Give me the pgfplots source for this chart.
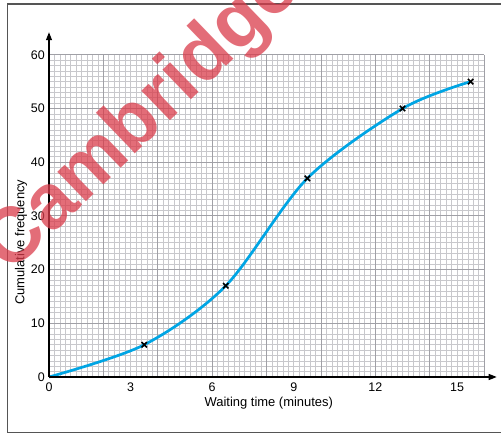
\documentclass[border=0pt]{standalone}
\usepackage{fontspec}
\setmainfont{Liberation Sans}
\usepackage{pgfplots}
\pgfplotsset{compat=1.18}
\usetikzlibrary{arrows.meta}

\definecolor{curveblue}{RGB}{0,165,228}
\definecolor{wmred}{RGB}{218,60,75}
\definecolor{gridminor}{RGB}{200,200,204}
\definecolor{gridmajor}{RGB}{160,160,166}
\definecolor{framegray}{RGB}{85,85,85}

\begin{document}
\begin{tikzpicture}[x=1bp,y=1bp]
\useasboundingbox (0,0) rectangle (501,434);
% outer frame (right side runs off the page)
\draw[framegray, line width=1.2bp] (503,430) -- (7.5,430) -- (7.5,1.5) -- (503,1.5);

\begin{axis}[
    at={(49bp,57bp)}, anchor=south west,
    scale only axis, width=435.2bp, height=322.2bp,
    xmin=0, xmax=16, ymin=0, ymax=60,
    axis lines=left, axis line style={draw=none},
    clip=false,
    xtick={0,3,...,15}, ytick={0,10,...,60},
    minor xtick={0,0.2,...,16.01}, minor y tick num=9,
    xmajorgrids=false, xminorgrids=true, ymajorgrids=true, yminorgrids=true,
    extra x ticks={2,4,...,16}, extra x tick labels={},
    extra x tick style={xmajorgrids=true},
    major grid style={gridmajor, line width=0.9bp},
    minor grid style={gridminor, line width=0.7bp},
    major tick length=0pt, minor tick length=0pt,
    /pgf/number format/assume math mode=true,
    tick label style={font=\fontsize{12.5}{14}\selectfont, inner sep=0pt},
    xticklabel style={anchor=north, yshift=-5.5bp},
    yticklabel style={anchor=east, xshift=-4bp},
    xlabel={Waiting time (minutes)},
    ylabel={Cumulative frequency},
    every axis x label/.style={at={(rel axis cs:0.505,0)}, anchor=north,
        yshift=-20bp, inner sep=0pt, font=\fontsize{13}{15}\selectfont},
    every axis y label/.style={at={(rel axis cs:0,0.418)}, xshift=-28bp,
        rotate=90, anchor=center, inner sep=0pt, font=\fontsize{13}{15}\selectfont},
]
\addplot[curveblue, line width=2.7bp, smooth, tension=0.5] coordinates {
    (0,0) (3.5,6) (6.5,17) (9.5,37) (13,50) (15.5,55)
};
\addplot[only marks, mark=x, mark size=3.8bp, mark options={black, line width=1.6bp}] coordinates {
    (3.5,6) (6.5,17) (9.5,37) (13,50) (15.5,55)
};
\draw[black, line width=1.3bp, -{Triangle[length=8bp,width=6bp]}] (axis cs:0,0) -- (axis cs:16.46,0);
\draw[black, line width=1.3bp, -{Triangle[length=8bp,width=6bp]}] (axis cs:0,0) -- (axis cs:0,64.2);
\end{axis}
% watermark, see-through over the grid
\node[wmred, opacity=0.75, rotate=44, font=\fontsize{78}{80}\selectfont\bfseries] at (143,315) {Cambridge};
\end{tikzpicture}
\end{document}
